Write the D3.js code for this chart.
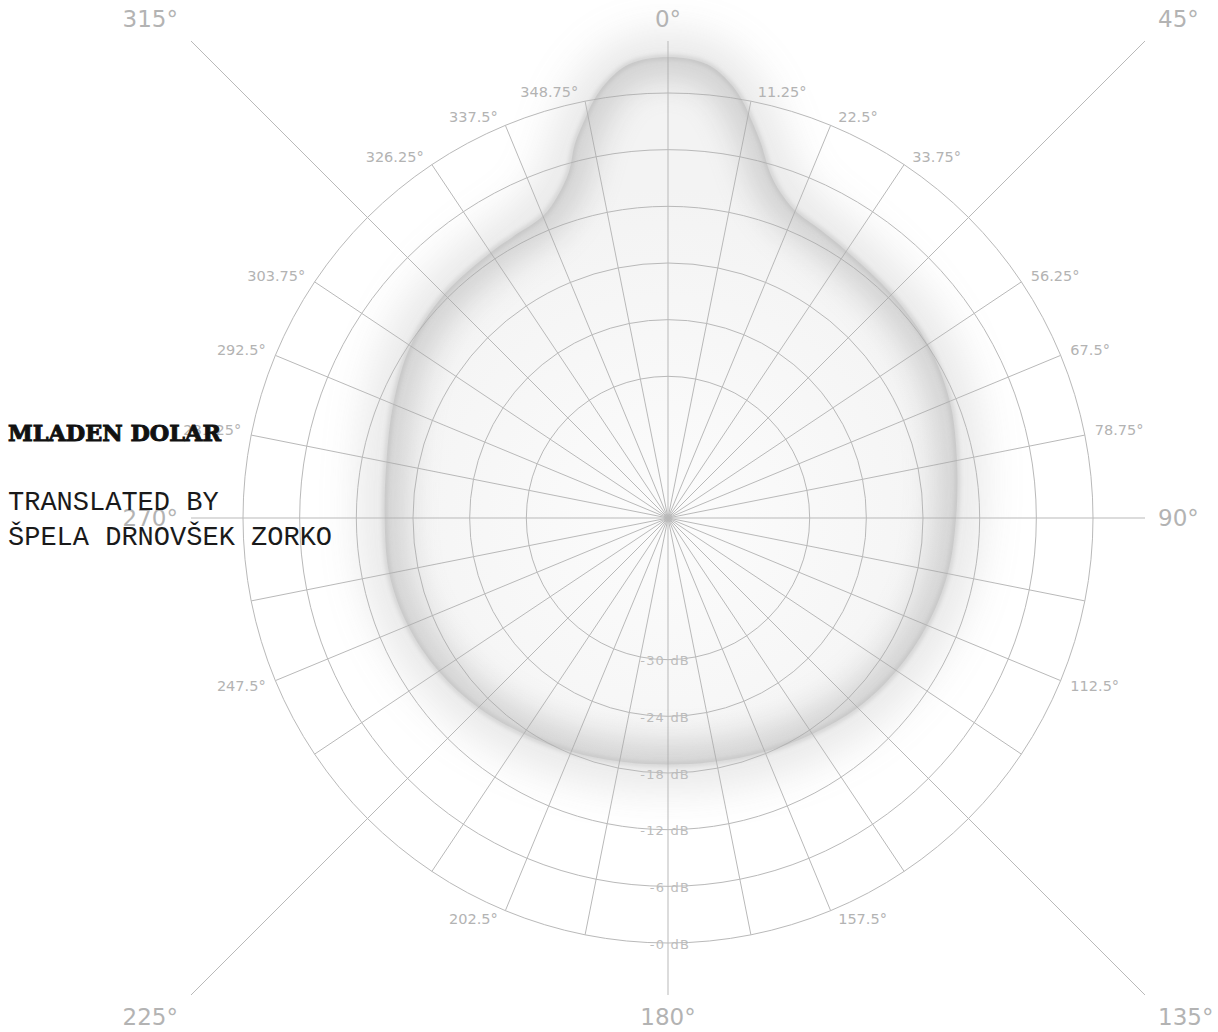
<!DOCTYPE html>
<html>
<head>
<meta charset="utf-8">
<script src="https://cdn.jsdelivr.net/npm/d3@7"></script>
<style>
  html, body { margin: 0; padding: 0; background: #ffffff; }
  svg { display: block; }
</style>
</head>
<body>
<svg id="chart" width="1218" height="1032"></svg>
<script>
// Polar pickup pattern: angle (degrees, clockwise from front) -> level (dB)
const patternAngles = [0, 5, 8, 10, 12, 14, 16.5, 19, 22.5, 28, 33.75, 45, 56.25, 67.5, 78.75, 90,
  101.25, 112.5, 123.75, 135, 146.25, 157.5, 168.75, 180, 191.25, 202.5, 213.75, 225, 236.25,
  247.5, 258.75, 270, 281.25, 292.5, 303.75, 315, 326.25, 331, 337.5, 341, 344, 346, 348, 350, 352, 355];
const patternLevels = [3.8, 3.2, 1.6, 0, -2.1, -4.2, -6.9, -8.5, -9.8, -10.5, -11.0, -11.5, -11.9, -12.7, -13.8, -14.5,
  -14.8, -15.3, -15.9, -16.6, -17.5, -18.2, -18.7, -18.9, -18.7, -18.2, -17.5, -16.6, -15.8,
  -15.2, -14.9, -15.0, -14.6, -13.5, -12.2, -11.5, -11.2, -11.0, -10.4, -9.0, -6.9, -4.2, -2.1, 0, 1.6, 3.2];

// Level rings and their labels
const ringLevels = [-30, -24, -18, -12, -6, 0];
const ringLabels = ["-30 dB", "-24 dB", "-18 dB", "-12 dB", "-6 dB", "-0 dB"];

// Spokes every 11.25 degrees; main axes every 45 degrees
const spokeAngles = d3.range(0, 360, 11.25);
const majorAngles = [0, 45, 90, 135, 180, 225, 270, 315];
const majorLabels = ["0°", "45°", "90°", "135°", "180°", "225°", "270°", "315°"];
const minorLabelAngles = [11.25, 22.5, 33.75, 56.25, 67.5, 78.75, 112.5, 157.5,
  202.5, 247.5, 281.25, 292.5, 303.75, 326.25, 337.5, 348.75];

const author = "MLADEN DOLAR";
const creditLines = ["TRANSLATED BY", "ŠPELA DRNOVŠEK ZORKO"];

const cx = 668, cy = 518;
const half = 477;            // half-size of the square the main axes reach
const gridColor = "#b9b9b9";
const labelColor = "#b3b3b3";
const rad = a => a * Math.PI / 180;

const r = d3.scaleLinear().domain([-45, 0]).range([0, 425]);
const rMax = r(0);

const svg = d3.select("#chart");
const defs = svg.append("defs");

const blur = (id, sd) => defs.append("filter").attr("id", id)
  .attr("x", "-30%").attr("y", "-30%").attr("width", "160%").attr("height", "160%")
  .append("feGaussianBlur").attr("stdDeviation", sd);
blur("haze", 24);
blur("inner", 16);
blur("edge", 2.4);

const g = svg.append("g").attr("transform", `translate(${cx},${cy})`);

const pattern = patternAngles.map((a, i) => ({ a, v: patternLevels[i] }));
const line = d3.lineRadial()
  .angle(d => rad(d.a))
  .radius(d => r(d.v))
  .curve(d3.curveCatmullRomClosed.alpha(0.5));
const pathD = line(pattern);

// fill of the pattern
const grad = defs.append("radialGradient").attr("id", "bodyFill")
  .attr("gradientUnits", "userSpaceOnUse").attr("cx", 0).attr("cy", 0).attr("r", 330);
grad.append("stop").attr("offset", "0%").attr("stop-color", "#fcfcfc");
grad.append("stop").attr("offset", "100%").attr("stop-color", "#f3f3f3");

defs.append("clipPath").attr("id", "bodyClip")
  .append("path").attr("d", pathD).attr("transform", `translate(${cx},${cy})`);

// soft halo around the outline
g.append("path").attr("d", pathD)
  .attr("fill", "none").attr("stroke", "#9a9a9a").attr("stroke-width", 32)
  .attr("opacity", 0.36).attr("filter", "url(#haze)");

g.append("path").attr("d", pathD).attr("fill", "url(#bodyFill)");

// inner shading along the outline
svg.append("g").attr("clip-path", "url(#bodyClip)")
  .append("path").attr("d", pathD).attr("transform", `translate(${cx},${cy})`)
  .attr("fill", "none").attr("stroke", "#a6a6a6").attr("stroke-width", 42)
  .attr("opacity", 0.45).attr("filter", "url(#inner)");

// darker outline
g.append("path").attr("d", pathD)
  .attr("fill", "none").attr("stroke", "#999999").attr("stroke-width", 2.5)
  .attr("opacity", 0.6).attr("filter", "url(#edge)");

// grid: rings
g.append("g").selectAll("circle").data(ringLevels).join("circle")
  .attr("r", d => r(d)).attr("fill", "none")
  .attr("stroke", gridColor).attr("stroke-width", 1);

// grid: spokes
g.append("g").selectAll("line").data(spokeAngles.filter(a => !majorAngles.includes(a))).join("line")
  .attr("x1", 0).attr("y1", 0)
  .attr("x2", a => Math.sin(rad(a)) * rMax)
  .attr("y2", a => -Math.cos(rad(a)) * rMax)
  .attr("stroke", gridColor).attr("stroke-width", 1);

// main axes reach the square frame
const squareScale = a => 1 / Math.max(Math.abs(Math.sin(rad(a))), Math.abs(Math.cos(rad(a))));
g.append("g").selectAll("line").data(majorAngles).join("line")
  .attr("x1", 0).attr("y1", 0)
  .attr("x2", a => Math.sin(rad(a)) * half * squareScale(a))
  .attr("y2", a => -Math.cos(rad(a)) * half * squareScale(a))
  .attr("stroke", gridColor).attr("stroke-width", 1);

const font = "'DejaVu Sans', Roboto, sans-serif";

// main axis labels just beyond the frame
g.append("g").selectAll("text").data(majorAngles).join("text")
  .attr("x", a => Math.sin(rad(a)) * squareScale(a) * 490)
  .attr("y", a => -Math.cos(rad(a)) * squareScale(a) * 499)
  .attr("text-anchor", a => Math.sin(rad(a)) > 0.1 ? "start" : Math.sin(rad(a)) < -0.1 ? "end" : "middle")
  .attr("dominant-baseline", "central")
  .attr("font-family", font).attr("font-size", 23).attr("fill", labelColor)
  .text((a, i) => majorLabels[i]);

// minor angle labels at the outer ring
g.append("g").selectAll("text").data(minorLabelAngles).join("text")
  .attr("x", a => {
    const s = Math.sin(rad(a));
    return s * rMax + Math.sign(s) * (6 + 4 * Math.abs(s));
  })
  .attr("y", a => {
    const s = Math.sin(rad(a)), c = Math.cos(rad(a));
    return -c * rMax + (c > 0 ? -9 + 4 * s * s : 9 - 4 * s * s);
  })
  .attr("text-anchor", a => Math.sin(rad(a)) > 0 ? "start" : "end")
  .attr("dominant-baseline", "central")
  .attr("font-family", font).attr("font-size", 14.5).attr("fill", labelColor)
  .text(a => a + "°");

// ring labels along the rear axis
g.append("g").selectAll("text").data(ringLevels).join("text")
  .attr("x", 22)
  .attr("y", d => r(d) + 1)
  .attr("text-anchor", "end")
  .attr("dominant-baseline", "central")
  .attr("font-family", font).attr("font-size", 13).attr("letter-spacing", 1.2)
  .attr("fill", "#bdbdbd")
  .text((d, i) => ringLabels[i]);

// title block
svg.append("text").attr("x", 8).attr("y", 441)
  .attr("font-family", "'DejaVu Serif', serif").attr("font-weight", 900)
  .attr("font-size", 23).attr("fill", "#111")
  .attr("stroke", "#111").attr("stroke-width", 1)
  .attr("textLength", 213).attr("lengthAdjust", "spacingAndGlyphs")
  .text(author);

svg.append("g").selectAll("text").data(creditLines).join("text")
  .attr("x", 8).attr("y", (d, i) => 510 + i * 35)
  .attr("font-family", "'Liberation Mono', monospace")
  .attr("font-size", 27).attr("fill", "#1a1a1a")
  .text(d => d);
</script>
</body>
</html>
